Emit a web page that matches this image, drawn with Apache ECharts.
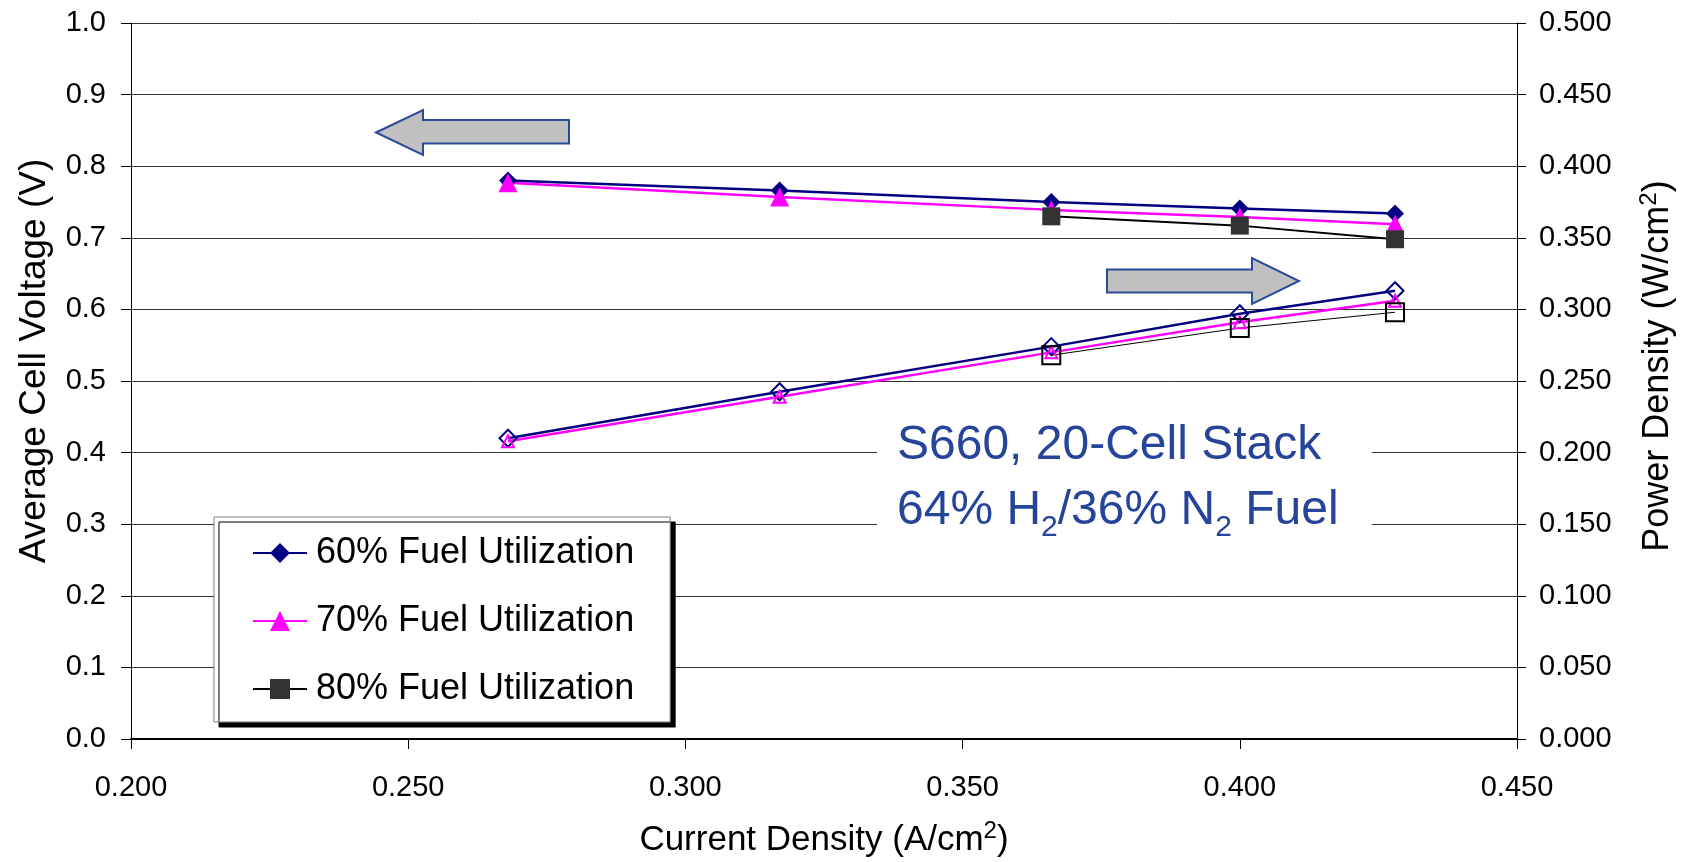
<!DOCTYPE html>
<html>
<head>
<meta charset="utf-8">
<script src="https://cdn.jsdelivr.net/npm/echarts@6/dist/echarts.min.js"></script>
<style>
html,body{margin:0;padding:0;background:#fff;}
#chart{width:1684px;height:862px;}
</style>
</head>
<body>
<div id="chart"></div>
<script>
// ---- data ----
var currentDensity = [0.268, 0.317, 0.366, 0.400, 0.428];
var currentDensity80 = [0.366, 0.400, 0.428];
var voltage60 = [0.780, 0.766, 0.750, 0.741, 0.734];
var voltage70 = [0.777, 0.757, 0.739, 0.729, 0.719];
var voltage80 = [0.730, 0.717, 0.698];
var power60 = [0.210, 0.2425, 0.274, 0.297, 0.313];
var power70 = [0.208, 0.239, 0.270, 0.291, 0.306];
var power80 = [0.268, 0.287, 0.298];
var seriesNames = ['60% Fuel Utilization', '70% Fuel Utilization', '80% Fuel Utilization'];
var xTicks = {min: 0.2, max: 0.45, step: 0.05};
var yLeftTicks = {min: 0, max: 1.0, step: 0.1};
var yRightTicks = {min: 0, max: 0.5, step: 0.05};

function pairs(xs, ys) { return xs.map(function (x, i) { return [x, ys[i]]; }); }

var FONT = '"Liberation Sans", Arial, sans-serif';
var chart = echarts.init(document.getElementById('chart'), null, {renderer: 'canvas'});

var option = {
  animation: false,
  backgroundColor: '#fff',
  grid: {left: 131, right: 167, top: 23, bottom: 123, outerBoundsMode: 'none'},
  legend: {
    data: seriesNames,
    orient: 'vertical',
    left: 214, top: 517,
    padding: [18, 36, 15, 38],
    itemWidth: 54, itemHeight: 25, itemGap: 32,
    selectedMode: false,
    backgroundColor: '#fff',
    borderColor: '#808080', borderWidth: 1,
    shadowColor: '#000', shadowBlur: 0, shadowOffsetX: 5, shadowOffsetY: 5,
    textStyle: {fontSize: 36, lineHeight: 36, color: '#000', fontFamily: FONT, padding: [0, 0, 0, 4]}
  },
  xAxis: {
    type: 'value', min: xTicks.min, max: xTicks.max, interval: xTicks.step,
    name: '{n|Current Density (A/cm}{sup|2}{n|)}', nameLocation: 'middle', nameGap: 80,
    nameTextStyle: {fontSize: 35, color: '#000', fontFamily: FONT,
      rich: {
        n: {fontSize: 35, lineHeight: 42, fontFamily: FONT, color: '#000'},
        sup: {fontSize: 24, lineHeight: 24, verticalAlign: 'top', fontFamily: FONT, color: '#000'}
      }},
    axisLine: {onZero: false, lineStyle: {color: '#000', width: 2}},
    axisTick: {show: true, inside: false, length: 10, lineStyle: {color: '#000', width: 1}},
    axisLabel: {fontSize: 29, color: '#000', fontFamily: FONT, margin: 34,
      formatter: function (v) { return v.toFixed(3); }},
    splitLine: {show: false}
  },
  yAxis: [{
    type: 'value', position: 'left', min: yLeftTicks.min, max: yLeftTicks.max, interval: yLeftTicks.step,
    name: 'Average Cell Voltage (V)', nameLocation: 'middle', nameGap: 78, nameRotate: 90,
    nameTextStyle: {fontSize: 37, color: '#000', fontFamily: FONT, padding: [0, 0, 0, 40]},
    axisLine: {show: true, lineStyle: {color: '#000', width: 1}},
    axisTick: {show: true, inside: false, length: 10, lineStyle: {color: '#000'}},
    axisLabel: {fontSize: 29, color: '#000', fontFamily: FONT, margin: 25,
      formatter: function (v) { return v.toFixed(1); }},
    splitLine: {show: true, lineStyle: {color: '#333', width: 1}}
  }, {
    type: 'value', position: 'right', min: yRightTicks.min, max: yRightTicks.max, interval: yRightTicks.step,
    name: '{n|Power Density (W/cm}{sup|2}{n|)}', nameLocation: 'middle', nameGap: 120, nameRotate: 90,
    nameTextStyle: {fontSize: 36, color: '#000', fontFamily: FONT, padding: [0, 0, 0, 30],
      rich: {
        n: {fontSize: 36, lineHeight: 42, fontFamily: FONT, color: '#000'},
        sup: {fontSize: 24, lineHeight: 24, verticalAlign: 'top', fontFamily: FONT, color: '#000'}
      }},
    axisLine: {show: true, lineStyle: {color: '#000', width: 1}},
    axisTick: {show: true, inside: false, length: 9, lineStyle: {color: '#000'}},
    axisLabel: {fontSize: 29, color: '#000', fontFamily: FONT, margin: 22,
      formatter: function (v) { return v.toFixed(3); }},
    splitLine: {show: false}
  }],
  series: [
    {name: seriesNames[0], type: 'line', yAxisIndex: 0, data: pairs(currentDensity, voltage60),
     symbol: 'diamond', symbolSize: 18,
     itemStyle: {color: '#000080'}, lineStyle: {color: '#000080', width: 2.5}},
    {name: seriesNames[1], type: 'line', yAxisIndex: 0, data: pairs(currentDensity, voltage70),
     symbol: 'triangle', symbolSize: 19,
     itemStyle: {color: '#FF00FF'}, lineStyle: {color: '#FF00FF', width: 2.5}},
    {name: seriesNames[2], type: 'line', yAxisIndex: 0, data: pairs(currentDensity80, voltage80),
     symbol: 'rect', symbolSize: 18,
     itemStyle: {color: '#333333'}, lineStyle: {color: '#000', width: 2}},
    {name: 'P60', type: 'line', yAxisIndex: 1, data: pairs(currentDensity, power60),
     symbol: 'diamond', symbolSize: 17,
     itemStyle: {color: 'rgba(255,255,255,0)', borderColor: '#000080', borderWidth: 2},
     lineStyle: {color: '#000080', width: 2.5}},
    {name: 'P70', type: 'line', yAxisIndex: 1, data: pairs(currentDensity, power70),
     symbol: 'triangle', symbolSize: 12,
     itemStyle: {color: 'rgba(255,255,255,0)', borderColor: '#FF00FF', borderWidth: 2},
     lineStyle: {color: '#FF00FF', width: 2.5}},
    {name: 'P80', type: 'line', yAxisIndex: 1, data: pairs(currentDensity80, power80),
     symbol: 'rect', symbolSize: 18,
     itemStyle: {color: 'rgba(255,255,255,0)', borderColor: '#000', borderWidth: 2},
     lineStyle: {color: '#000', width: 1}}
  ],
  graphic: [
    {type: 'polygon', z: 100,
     shape: {points: [[376, 132.5], [423, 110], [423, 120], [569, 120], [569, 143.5], [423, 143.5], [423, 155]]},
     style: {fill: '#C0C0C0', stroke: '#2A4A9A', lineWidth: 2}},
    {type: 'polygon', z: 100,
     shape: {points: [[1107, 269.5], [1252, 269.5], [1252, 258], [1299, 281], [1252, 304], [1252, 292.5], [1107, 292.5]]},
     style: {fill: '#C0C0C0', stroke: '#2A4A9A', lineWidth: 2}},
    {type: 'text', z: 100, x: 877, y: 403,
     style: {
       text: '{m|S660, 20-Cell Stack}\n{m|64% H}{s|2}{m|/36% N}{s|2}{m| Fuel}',
       fill: '#25449A',
       backgroundColor: '#fff',
       padding: [10, 20, 10, 20],
       width: 455,
       rich: {
         m: {fontSize: 48, lineHeight: 65, fontFamily: FONT, fill: '#25449A'},
         s: {fontSize: 30, lineHeight: 28, verticalAlign: 'bottom', fontFamily: FONT, fill: '#25449A'}
       }
     }}
  ]
};
chart.setOption(option);
</script>
</body>
</html>
